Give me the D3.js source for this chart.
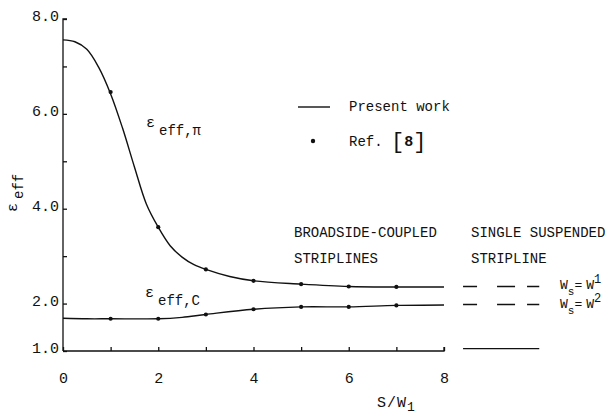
<!DOCTYPE html>
<html>
<head>
<meta charset="utf-8">
<script src="https://cdn.jsdelivr.net/npm/d3@7"></script>
<style>
  body { margin: 0; background: #fff; }
  text { font-family: "Liberation Mono", "DejaVu Sans Mono", monospace; fill: #111; }
</style>
</head>
<body>
<div id="chart"></div>
<script>
// values (x = S/W1, y = eps_eff)
var piCurve = [[0,7.56],[0.25,7.52],[0.5,7.36],[0.75,6.98],[1,6.42],[1.25,5.7],[1.5,4.88],
               [1.75,4.1],[2,3.61],[2.25,3.22],[2.5,2.98],[2.75,2.82],[3,2.72],[3.5,2.57],
               [4,2.48],[5,2.41],[6,2.36],[7,2.35],[8,2.35]];
var piRef   = [[1,6.46],[2,3.61],[3,2.72],[4,2.48],[5,2.41],[6,2.36],[7,2.35]];
var cCurve  = [[0,1.69],[0.5,1.68],[1,1.68],[2,1.68],[2.5,1.71],[3,1.77],[4,1.88],
               [5,1.93],[6,1.93],[7,1.96],[8,1.97]];
var cRef    = [[1,1.68],[2,1.68],[3,1.77],[4,1.88],[5,1.93],[6,1.93],[7,1.96]];
// single suspended stripline levels (drawn right of the axis)
var singleW1 = 2.36, singleW2 = 1.98, singleAir = 1.05;
var singleSpan = [8.4, 10.0];

var xTicks = [0,1,2,3,4,5,6,7,8];
var xLabels = [0,2,4,6,8];
var yTicks = [1,2,3,4,5,6,7,8];
var yLabels = [1,2,4,6,8];

var width = 613, height = 416;

var svg = d3.select('#chart').append('svg')
  .attr('width', width)
  .attr('height', height);

var x = d3.scaleLinear().domain([0, 8]).range([63, 444]);
var y = d3.scaleLinear().domain([1, 8]).range([351, 19]);

// axes
var yAxis = d3.axisLeft(y)
  .tickValues(yTicks)
  .tickSize(-4)
  .tickPadding(4)
  .tickFormat(function(d) { return yLabels.indexOf(d) >= 0 ? d.toFixed(1) : ''; });

var gy = svg.append('g').attr('transform', 'translate(63,0)').call(yAxis);
gy.select('.domain').attr('d', 'M0,' + y(1) + 'V' + y(8) + 'h4');
gy.selectAll('text').attr('font-size', 15).attr('dy', '0.1em')
  .attr('font-family', '"Liberation Mono", monospace').attr('fill', '#111');

var xAxis = d3.axisBottom(x)
  .tickValues(xTicks)
  .tickSize(-4)
  .tickPadding(21)
  .tickFormat(function(d) { return xLabels.indexOf(d) >= 0 ? d : ''; });

var gx = svg.append('g').attr('transform', 'translate(0,351)').call(xAxis);
gx.select('.domain').attr('d', 'M' + x(0) + ',0H' + x(8) + 'v-4');
gx.selectAll('text').attr('font-size', 15)
  .attr('font-family', '"Liberation Mono", monospace').attr('fill', '#111');

svg.selectAll('.domain, .tick line').attr('stroke', '#111').attr('stroke-width', 1.3);

// curves
var line = d3.line()
  .x(function(d) { return x(d[0]); })
  .y(function(d) { return y(d[1]); })
  .curve(d3.curveCatmullRom.alpha(0.5));

svg.append('path').datum(piCurve).attr('d', line)
  .attr('fill', 'none').attr('stroke', '#111').attr('stroke-width', 1.4);
svg.append('path').datum(cCurve).attr('d', line)
  .attr('fill', 'none').attr('stroke', '#111').attr('stroke-width', 1.3);

svg.selectAll('circle.ref').data(piRef.concat(cRef)).enter()
  .append('circle').attr('class', 'ref')
  .attr('cx', function(d) { return x(d[0]); })
  .attr('cy', function(d) { return y(d[1]); })
  .attr('r', 2.1).attr('fill', '#111');

// single suspended stripline marks
svg.selectAll('line.single').data([singleW1, singleW2]).enter()
  .append('line').attr('class', 'single')
  .attr('x1', x(singleSpan[0])).attr('x2', x(singleSpan[1]))
  .attr('y1', function(d) { return y(d); }).attr('y2', function(d) { return y(d); })
  .attr('stroke', '#111').attr('stroke-width', 1.3)
  .attr('stroke-dasharray', '14 20 18 12 13 200');
svg.append('line')
  .attr('x1', x(singleSpan[0])).attr('x2', x(singleSpan[1]))
  .attr('y1', y(singleAir)).attr('y2', y(singleAir))
  .attr('stroke', '#111').attr('stroke-width', 1.3);

// labels
function eps(xp, yp, sub) {
  var t = svg.append('text').attr('x', xp).attr('y', yp).attr('font-size', 15);
  t.append('tspan').text('ε');
  t.append('tspan').attr('dx', 4).attr('dy', 8).attr('font-size', 14).text(sub);
}
eps(146, 127, 'eff,π');
eps(145, 297, 'eff,C');

// y axis title
var yt = svg.append('text').attr('transform', 'translate(17,212) rotate(-90)').attr('font-size', 15);
yt.append('tspan').text('ε');
yt.append('tspan').attr('dx', 4).attr('dy', 6).attr('font-size', 14).text('eff');

// x axis title
var xt = svg.append('text').attr('x', 377).attr('y', 407).attr('font-size', 15)
  .attr('letter-spacing', 1);
xt.append('tspan').text('S/W');
xt.append('tspan').attr('dy', 4).attr('font-size', 13).text('1');

// legend
svg.append('line').attr('x1', 298).attr('x2', 330).attr('y1', 107).attr('y2', 107)
  .attr('stroke', '#111').attr('stroke-width', 1.4);
svg.append('text').attr('x', 349).attr('y', 111).attr('font-size', 14).text('Present work');
svg.append('circle').attr('cx', 313).attr('cy', 141).attr('r', 2.2).attr('fill', '#111');
var ref = svg.append('text').attr('x', 349).attr('y', 146).attr('font-size', 14);
ref.append('tspan').text('Ref. ');
ref.append('tspan').attr('font-size', 22).attr('dy', 2).text('[');
ref.append('tspan').attr('font-size', 15).attr('font-weight', 'bold').attr('dy', -2).text('8');
ref.append('tspan').attr('font-size', 22).attr('dy', 2).text(']');

svg.append('text').attr('x', 294).attr('y', 237).attr('font-size', 14).text('BROADSIDE-COUPLED');
svg.append('text').attr('x', 294).attr('y', 263).attr('font-size', 14).text('STRIPLINES');
svg.append('text').attr('x', 471).attr('y', 237).attr('font-size', 14).text('SINGLE SUSPENDED');
svg.append('text').attr('x', 471).attr('y', 263).attr('font-size', 14).text('STRIPLINE');

function wLabel(yp, sup) {
  var t = svg.append('text').attr('x', 560).attr('y', yp).attr('font-size', 13);
  t.append('tspan').text('W');
  t.append('tspan').attr('dy', 6).attr('font-size', 11).text('s');
  t.append('tspan').attr('dy', -6).text('=');
  t.append('tspan').attr('dx', 4).text('W');
  t.append('tspan').attr('dy', -6).attr('font-size', 12).text(sup);
}
wLabel(289, '1');
wLabel(308, '2');
</script>
</body>
</html>
